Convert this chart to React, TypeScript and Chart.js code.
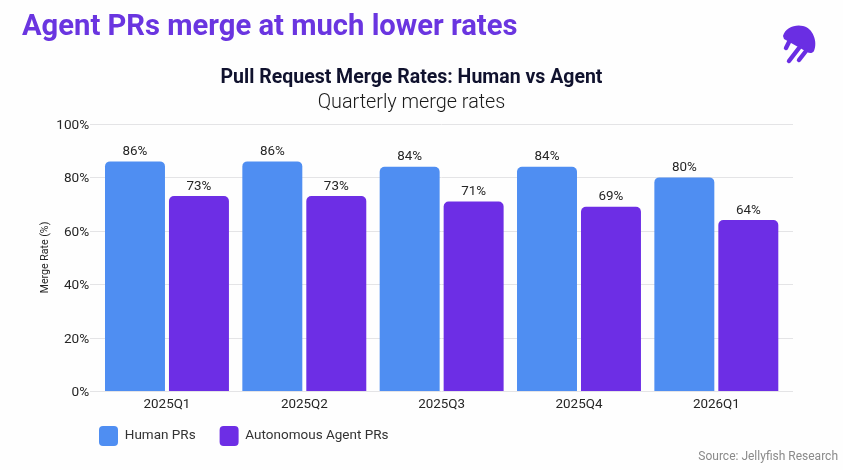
import React, { useEffect, useRef } from "react";
import { Chart, registerables } from "chart.js";

Chart.register(...registerables);

const quarters = ["2025Q1", "2025Q2", "2025Q3", "2025Q4", "2026Q1"];
const humanPRs = [86, 86, 84, 84, 80];
const agentPRs = [73, 73, 71, 69, 64];
const FONT = "Roboto, sans-serif";

const valueLabels = {
  id: "valueLabels",
  afterDatasetsDraw(chart: any) {
    const { ctx } = chart;
    ctx.save();
    ctx.font = `13.4px ${FONT}`;
    ctx.fillStyle = "#262626";
    ctx.textAlign = "center";
    ctx.textBaseline = "bottom";
    chart.data.datasets.forEach((ds: any, i: number) => {
      chart.getDatasetMeta(i).data.forEach((bar: any, j: number) => {
        ctx.fillText(`${ds.data[j]}%`, bar.x, bar.y - 3);
      });
    });
    ctx.restore();
  },
};

const wideGrid = {
  id: "wideGrid",
  afterLayout(chart: any) {
    chart.legend.top -= 15;
    chart.legend.bottom -= 15;
  },
  beforeDatasetsDraw(chart: any) {
    const { ctx, scales } = chart;
    ctx.save();
    ctx.strokeStyle = "#e4e4e6";
    ctx.lineWidth = 1;
    scales.y.ticks.forEach((t: any) => {
      const y = Math.round(scales.y.getPixelForValue(t.value)) + 0.5;
      ctx.beginPath();
      ctx.moveTo(90, y);
      ctx.lineTo(793, y);
      ctx.stroke();
    });
    ctx.restore();
  },
};

export default function App() {
  const ref = useRef<HTMLCanvasElement>(null);
  useEffect(() => {
    document.body.style.margin = "0";
    document.body.style.background = "#fefefe";
    const chart = new Chart(ref.current!, {
      type: "bar",
      data: {
        labels: quarters,
        datasets: [
          { label: "Human PRs", data: humanPRs, backgroundColor: "#4f8ef2" },
          { label: "Autonomous Agent PRs", data: agentPRs, backgroundColor: "#6d2ee5" },
        ],
      },
      options: {
        animation: false,
        responsive: false,
        devicePixelRatio: 1,
        layout: { padding: { left: 75, right: 58, top: 124, bottom: -1 } },
        datasets: {
          bar: {
            categoryPercentage: 0.9316,
            barPercentage: 0.9375,
            borderRadius: { topLeft: 5, topRight: 5, bottomLeft: 0, bottomRight: 0 },
            borderSkipped: false,
          },
        },
        scales: {
          x: {
            grid: { display: false },
            border: { display: false },
            ticks: { color: "#262626", font: { family: FONT, size: 13.4 }, padding: -2 },
            afterFit(s: any) { s.height = 26; },
          },
          y: {
            min: 0,
            max: 100,
            grid: { display: false },
            border: { display: false },
            afterFit(s: any) { s.width = 23.3; },
            ticks: {
              stepSize: 20,
              mirror: true,
              crossAlign: "far",
              padding: -42,
              labelOffset: 1.5,
              color: "#262626",
              font: { family: FONT, size: 13.6 },
              callback: (v: any) => `${v}%`,
            },
            title: {
              display: true,
              text: "Merge Rate (%)",
              color: "#262626",
              font: { family: FONT, size: 10.6 },
              padding: { top: -36, bottom: 0 },
            },
          },
        },
        plugins: {
          title: { display: false },
          tooltip: { enabled: false },
          legend: {
            position: "bottom",
            align: "start",
            labels: {
              boxWidth: 19,
              boxHeight: 20,
              padding: 24,
              useBorderRadius: true,
              borderRadius: 4,
              color: "#333333",
              font: { family: FONT, size: 13.5 },
            },
          },
        },
      } as any,
      plugins: [wideGrid, valueLabels],
    });
    return () => chart.destroy();
  }, []);

  const text: React.CSSProperties = { position: "absolute", fontFamily: FONT, whiteSpace: "nowrap", lineHeight: 1 };
  return (
    <div style={{ position: "relative", width: 843, height: 470, overflow: "hidden" }}>
      <canvas ref={ref} width={843} height={470} style={{ display: "block" }} />
      <div style={{ ...text, left: 22, top: 11, fontSize: 29.2, fontWeight: 700, color: "#6a35e0" }}>
        Agent PRs merge at much lower rates
      </div>
      <div style={{ ...text, left: 0, width: 823, textAlign: "center", top: 67, fontSize: 19.5, fontWeight: 700, color: "#10122e" }}>
        Pull Request Merge Rates: Human vs Agent
      </div>
      <div style={{ ...text, left: 0, width: 823, textAlign: "center", top: 92, fontSize: 19.8, fontWeight: 300, color: "#1a1a1a" }}>
        Quarterly merge rates
      </div>
      <div style={{ ...text, right: 5, top: 450, fontSize: 12, color: "#8a8a8a" }}>Source: Jellyfish Research</div>
      <svg style={{ position: "absolute", left: 775, top: 20 }} width="50" height="50" viewBox="0 0 50 50">
        <path d="M8 16 C10 8 20 4 28 6 C38 8 43 22 39 31 C37 34 34 33 32 32 L9 19 Z" fill="#6a2ee3" />
        <g stroke="#6a2ee3" strokeWidth="4.4" strokeLinecap="round">
          <line x1="14" y1="22" x2="11" y2="28" />
          <line x1="24" y1="28" x2="14" y2="41" />
          <line x1="31" y1="31" x2="24" y2="40" />
        </g>
      </svg>
    </div>
  );
}
